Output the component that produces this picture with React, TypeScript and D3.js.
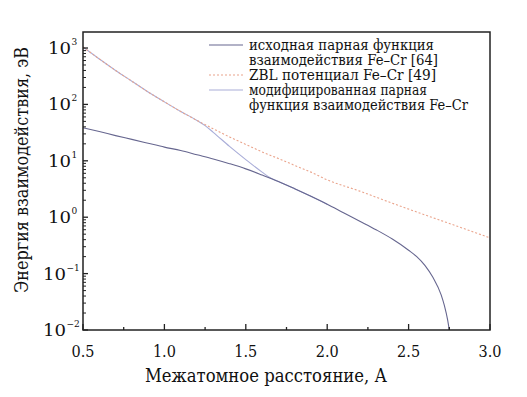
import React, { useEffect, useRef } from 'react';
import * as d3 from 'd3';

// distances, Å
const rOrig = [0.5, 0.6, 0.7, 0.8, 0.9, 1.0, 1.1, 1.2, 1.3, 1.4, 1.5, 1.6, 1.7, 1.8, 1.9, 2.0, 2.1, 2.2, 2.3, 2.4, 2.5, 2.55, 2.6, 2.65, 2.7, 2.72, 2.74, 2.75];
const eOrig = [38.5, 33, 28, 24, 20.5, 17.5, 15.2, 12.8, 10.8, 8.9, 7.2, 5.6, 4.3, 3.2, 2.35, 1.7, 1.2, 0.85, 0.6, 0.41, 0.26, 0.2, 0.14, 0.085, 0.042, 0.027, 0.015, 0.01];

const rZbl = [0.5, 0.6, 0.7, 0.8, 0.9, 1.0, 1.1, 1.2, 1.3, 1.4, 1.5, 1.6, 1.7, 1.8, 1.9, 2.0, 2.2, 2.4, 2.6, 2.8, 3.0];
const eZbl = [1040, 640, 400, 258, 166, 111, 75, 52, 37, 26.5, 19.5, 14.4, 11, 8.3, 6.3, 4.6, 2.9, 1.77, 1.1, 0.69, 0.43];

const rMod = [0.5, 0.6, 0.7, 0.8, 0.9, 1.0, 1.1, 1.2, 1.25, 1.3, 1.4, 1.5, 1.6, 1.65, 1.7, 1.8, 1.9, 2.0];
const eMod = [1040, 640, 400, 258, 166, 111, 75, 52, 42, 32, 18, 10.5, 6.3, 5.0, 4.3, 3.2, 2.35, 1.7];

const legendItems = [
  { lines: ['исходная парная функция', 'взаимодействия Fe–Cr [64]'], widths: [185, 189], color: '#66668f', dash: null },
  { lines: ['ZBL потенциал Fe–Cr [49]'], widths: [187], color: '#eaa48c', dash: '2,2' },
  { lines: ['модифицированная парная', 'функция взаимодействия Fe–Cr'], widths: [178, 219], color: '#a9add8', dash: null },
];

const decades = [-2, -1, 0, 1, 2, 3];

export default function App() {
  const ref = useRef<SVGSVGElement>(null);

  useEffect(() => {
    const width = 527;
    const height = 397;
    const left = 83, right = 490, top = 32, bottom = 330;

    const svg = d3.select(ref.current);
    svg.selectAll('*').remove();
    svg.attr('width', width).attr('height', height)
      .attr('font-family', "'DejaVu Serif', serif");

    svg.append('rect').attr('width', width).attr('height', height).attr('fill', 'white');

    const x = d3.scaleLinear().domain([0.5, 3.0]).range([left, right]);
    const y = d3.scaleLog().domain([0.01, Math.pow(10, 3.284)]).range([bottom, top]);

    const clip = svg.append('defs').append('clipPath').attr('id', 'plotclip');
    clip.append('rect').attr('x', left).attr('y', top).attr('width', right - left).attr('height', bottom - top);

    const line = d3.line<[number, number]>()
      .x(d => x(d[0]))
      .y(d => y(d[1]))
      .curve(d3.curveMonotoneX);

    const plot = svg.append('g').attr('clip-path', 'url(#plotclip)');

    plot.append('path')
      .attr('d', line(rMod.map((r, i) => [r, eMod[i]])))
      .attr('fill', 'none')
      .attr('stroke', legendItems[2].color)
      .attr('stroke-width', 1.1);

    plot.append('path')
      .attr('d', line(rZbl.map((r, i) => [r, eZbl[i]])))
      .attr('fill', 'none')
      .attr('stroke', legendItems[1].color)
      .attr('stroke-dasharray', '2,2')
      .attr('stroke-width', 1.1);

    plot.append('path')
      .attr('d', line(rOrig.map((r, i) => [r, eOrig[i]])))
      .attr('fill', 'none')
      .attr('stroke', legendItems[0].color)
      .attr('stroke-width', 1.1);

    // frame
    svg.append('rect')
      .attr('x', left).attr('y', top)
      .attr('width', right - left).attr('height', bottom - top)
      .attr('fill', 'none')
      .attr('stroke', '#222')
      .attr('stroke-width', 1.5);

    // x ticks (inward)
    const xMajor = x.ticks(5);
    const xMinor = d3.range(0.75, 3.0, 0.5);
    svg.append('g').selectAll('line').data(xMajor).join('line')
      .attr('x1', d => x(d)).attr('x2', d => x(d))
      .attr('y1', bottom).attr('y2', bottom - 6)
      .attr('stroke', '#222').attr('stroke-width', 1.3);
    svg.append('g').selectAll('line').data(xMinor).join('line')
      .attr('x1', d => x(d)).attr('x2', d => x(d))
      .attr('y1', bottom).attr('y2', bottom - 3)
      .attr('stroke', '#222').attr('stroke-width', 1.3);
    svg.append('g').selectAll('text').data(xMajor).join('text')
      .attr('x', d => x(d)).attr('y', 357)
      .attr('text-anchor', 'middle')
      .attr('font-size', 16.5)
      .attr('textLength', 23)
      .attr('lengthAdjust', 'spacingAndGlyphs')
      .attr('fill', '#111')
      .text(d => d3.format('.1f')(d));

    // y ticks
    const yMinor: number[] = [];
    decades.forEach(k => {
      for (let m = 2; m <= 9; m++) {
        const v = m * Math.pow(10, k);
        if (y(v) >= top) yMinor.push(v);
      }
    });
    svg.append('g').selectAll('line').data(decades).join('line')
      .attr('x1', left).attr('x2', left + 5)
      .attr('y1', d => y(Math.pow(10, d))).attr('y2', d => y(Math.pow(10, d)))
      .attr('stroke', '#222').attr('stroke-width', 1.3);
    svg.append('g').selectAll('line').data(yMinor).join('line')
      .attr('x1', left).attr('x2', left + 3)
      .attr('y1', d => y(d)).attr('y2', d => y(d))
      .attr('stroke', '#222').attr('stroke-width', 1);

    const ylab = svg.append('g').selectAll('g').data(decades).join('g')
      .attr('transform', d => `translate(0,${y(Math.pow(10, d))})`)
      .attr('fill', '#111');
    ylab.append('text')
      .attr('x', d => (d < 0 ? 66 : 71))
      .attr('y', 6)
      .attr('text-anchor', 'end')
      .attr('font-size', 16.5)
      .attr('textLength', 23)
      .attr('lengthAdjust', 'spacingAndGlyphs')
      .text('10');
    ylab.append('text')
      .attr('x', d => (d < 0 ? 66.5 : 71.5))
      .attr('y', -3)
      .attr('font-size', 9)
      .text(d => String(d).replace('-', '−'));

    // axis titles
    svg.append('text')
      .attr('x', 266).attr('y', 382)
      .attr('text-anchor', 'middle')
      .attr('font-size', 18)
      .attr('textLength', 242)
      .attr('lengthAdjust', 'spacingAndGlyphs')
      .attr('fill', '#111')
      .text('Межатомное расстояние, А');

    svg.append('text')
      .attr('transform', 'translate(28,170) rotate(-90)')
      .attr('text-anchor', 'middle')
      .attr('font-size', 18)
      .attr('textLength', 246)
      .attr('lengthAdjust', 'spacingAndGlyphs')
      .attr('fill', '#111')
      .text('Энергия взаимодействия, эВ');

    // legend
    let ly = 45;
    legendItems.forEach(item => {
      svg.append('line')
        .attr('x1', 209).attr('x2', 243)
        .attr('y1', ly).attr('y2', ly)
        .attr('stroke', item.color)
        .attr('stroke-width', 1.1)
        .attr('stroke-dasharray', item.dash);
      item.lines.forEach((t, i) => {
        svg.append('text')
          .attr('x', 249).attr('y', ly + 5)
          .attr('font-size', 14)
          .attr('textLength', item.widths[i])
          .attr('lengthAdjust', 'spacingAndGlyphs')
          .attr('fill', '#111')
          .text(t);
        ly += 15;
      });
    });
  }, []);

  return (
    <div style={{ position: 'absolute', left: 0, top: 0 }}>
      <svg ref={ref}></svg>
    </div>
  );
}
